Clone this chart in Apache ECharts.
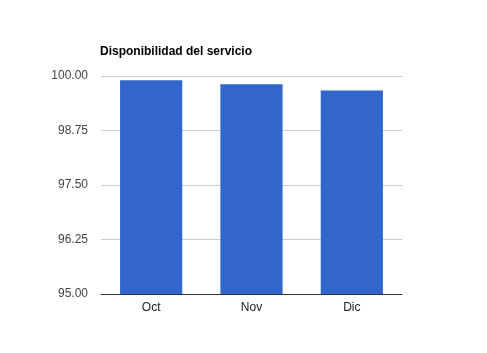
<!DOCTYPE html>
<html lang="es">
<head>
	<meta charset="UTF-8">
	<title>Disponibilidad del servicio</title>
	<style type="text/css">
		html, body { margin: 0; padding: 0; background: #fff; }
	</style>
</head>
<body>
     <div id="main" style="width:487px;height:353px;"></div>
</body>
</html>
<script type="text/javascript" src="https://cdn.jsdelivr.net/npm/echarts@6/dist/echarts.min.js"></script>
<script type="text/javascript">
    var meses = ["Oct", "Nov", "Dic"];
    var disponibilidad = [99.90, 99.81, 99.67];
    var yTicks = ["95.00", "96.25", "97.50", "98.75", "100.00"];

    var myChart = echarts.init(document.getElementById('main'));
    var option = {
        animation: false,
        title: {
            text: 'Disponibilidad del servicio',
            left: 95,
            top: 41,
            textStyle: { fontFamily: 'Liberation Sans', fontSize: 12, fontWeight: 'bold', color: '#000' }
        },
        grid: { left: 101, right: 85, top: 76, bottom: 59 },
        xAxis: {
            type: 'category',
            data: meses,
            axisTick: { show: false },
            axisLine: { lineStyle: { color: '#333', width: 1 } },
            axisLabel: { fontFamily: 'Liberation Sans', fontSize: 12, color: '#222', margin: 8 }
        },
        yAxis: {
            type: 'value',
            min: 95,
            max: 100,
            interval: 1.25,
            axisLine: { show: false },
            axisTick: { show: false },
            splitLine: { lineStyle: { color: '#ccc' } },
            axisLabel: {
                fontFamily: 'Liberation Sans', fontSize: 12, color: '#444', margin: 13,
                formatter: function (v) { return yTicks[Math.round((v - 95) / 1.25)]; }
            }
        },
        series: [{
            type: 'bar',
            data: disponibilidad,
            barWidth: '62%',
            itemStyle: { color: '#3366cc' }
        }]
    };
    myChart.setOption(option);
</script>
